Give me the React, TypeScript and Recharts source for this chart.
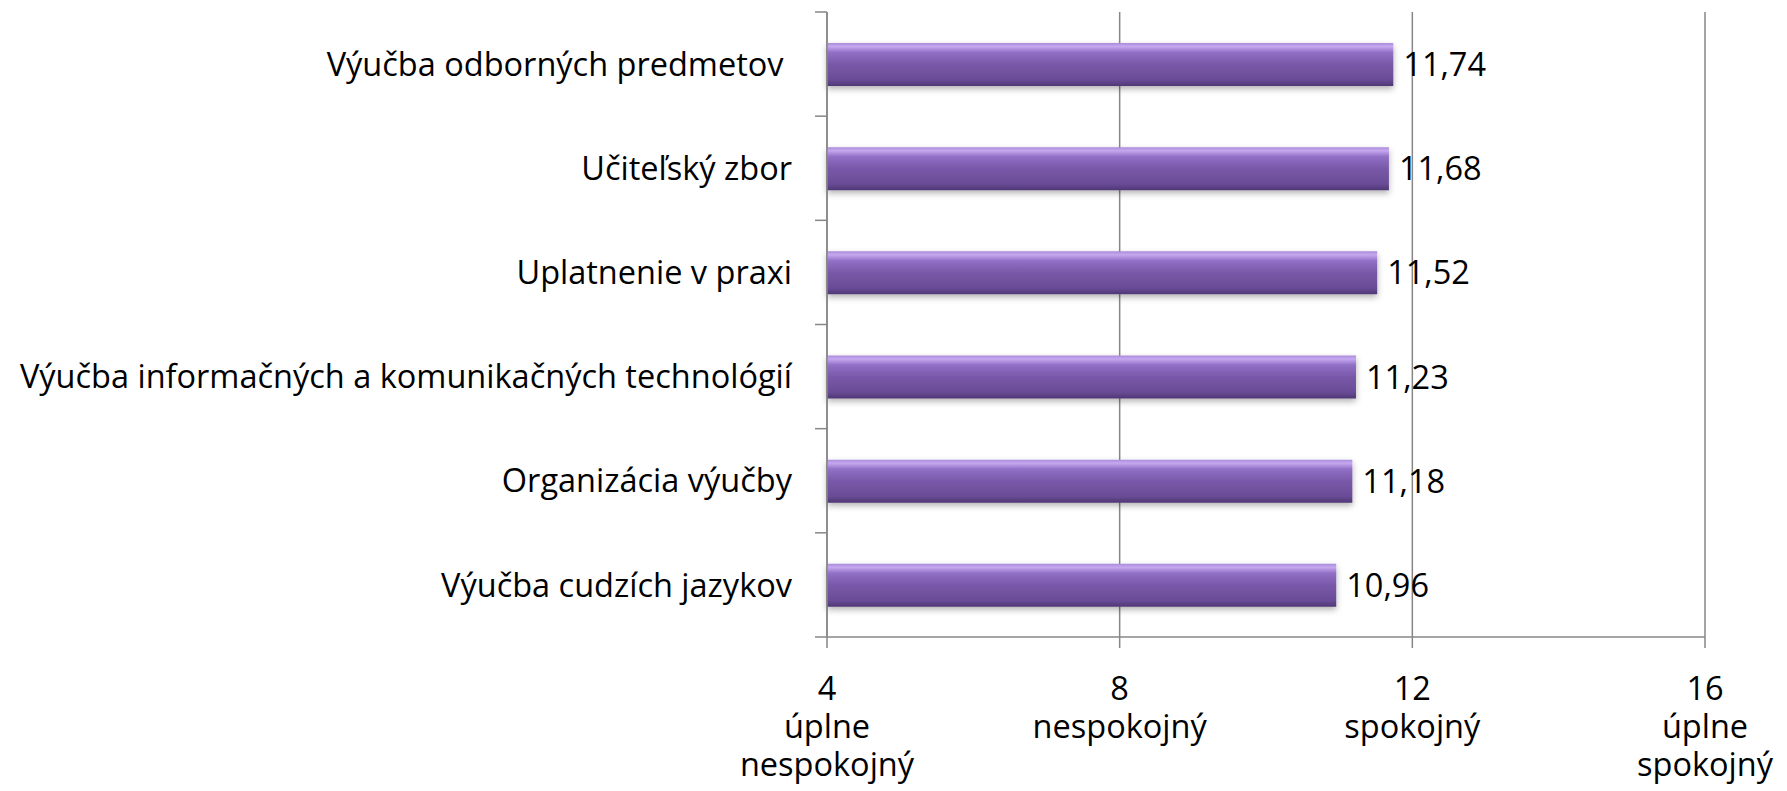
import React from "react";
import { BarChart, Bar, XAxis, YAxis, CartesianGrid, LabelList } from "recharts";

// survey areas, top to bottom
const categories = [
  "Výučba odborných predmetov ",
  "Učiteľský zbor",
  "Uplatnenie v praxi",
  "Výučba informačných a komunikačných technológií",
  "Organizácia výučby",
  "Výučba cudzích jazykov",
];
const scores = [11.74, 11.68, 11.52, 11.23, 11.18, 10.96];

const scaleTicks = [4, 8, 12, 16];
const scaleCaptions = [["úplne", "nespokojný"], ["nespokojný"], ["spokojný"], ["úplne", "spokojný"]];

const AXIS = "#878787";
const FONT = "'Open Sans', sans-serif";
const FONT_SIZE = 32.5;

const data = categories.map((name, i) => ({ name, score: scores[i] }));

function CategoryTick(props: any) {
  const { x, y, payload, index, visibleTicksCount } = props;
  const half = payload.offset || 52;
  const axisX = x + 35;
  return (
    <g>
      <line x1={axisX - 12} x2={axisX} y1={y - half} y2={y - half} stroke={AXIS} strokeWidth={1.5} />
      {index === visibleTicksCount - 1 && (
        <line x1={axisX - 12} x2={axisX} y1={y + half} y2={y + half} stroke={AXIS} strokeWidth={1.5} />
      )}
      <text
        x={x}
        y={y}
        dy="0.36em"
        textAnchor="end"
        fill="#000"
        fontSize={FONT_SIZE}
        fontFamily={FONT}
        style={{ whiteSpace: "pre" }}
      >
        {payload.value}
      </text>
    </g>
  );
}

function ScaleTick(props: any) {
  const { x, y, payload } = props;
  const idx = scaleTicks.indexOf(payload.value);
  const lines = scaleCaptions[idx] || [];
  return (
    <text x={x} y={y} textAnchor="middle" fill="#000" fontSize={FONT_SIZE} fontFamily={FONT}>
      <tspan x={x} dy={50}>
        {payload.value}
      </tspan>
      {lines.map((t, i) => (
        <tspan key={i} x={x} dy={38}>
          {t}
        </tspan>
      ))}
    </text>
  );
}

export default function App() {
  return (
    <div style={{ position: "absolute", left: 0, top: 0, background: "#fff" }}>
      <BarChart
        width={1787}
        height={791}
        data={data}
        layout="vertical"
        margin={{ top: 12, right: 82, left: 0, bottom: 0 }}
        style={{ fontFamily: FONT }}
      >
        <defs>
          <linearGradient id="barFill" x1="0" y1="0" x2="0" y2="1">
            <stop offset="0" stopColor="#a98bd8" />
            <stop offset="0.08" stopColor="#c6a8f0" />
            <stop offset="0.22" stopColor="#9170c6" />
            <stop offset="0.5" stopColor="#7858a8" />
            <stop offset="0.85" stopColor="#6a4c97" />
            <stop offset="1" stopColor="#4f3775" />
          </linearGradient>
          <filter id="barShadow" x="-5%" y="-30%" width="110%" height="170%">
            <feDropShadow dx="0" dy="3" stdDeviation="3" floodColor="#000" floodOpacity="0.3" />
          </filter>
        </defs>
        <CartesianGrid horizontal={false} stroke={AXIS} strokeWidth={1.5} />
        <XAxis
          type="number"
          domain={[4, 16]}
          ticks={scaleTicks}
          interval={0}
          height={154}
          tickSize={11}
          tickMargin={2}
          axisLine={{ stroke: AXIS, strokeWidth: 1.5 }}
          tickLine={{ stroke: AXIS, strokeWidth: 1.5 }}
          tick={<ScaleTick />}
        />
        <YAxis
          type="category"
          dataKey="name"
          width={827}
          interval={0}
          tickSize={12}
          tickMargin={23}
          tickLine={false}
          axisLine={{ stroke: AXIS, strokeWidth: 1.5 }}
          tick={<CategoryTick />}
        />
        <Bar dataKey="score" barSize={43} fill="url(#barFill)" filter="url(#barShadow)" isAnimationActive={false}>
          <LabelList
            dataKey="score"
            position="right"
            offset={10}
            fill="#000"
            fontSize={FONT_SIZE}
            fontFamily={FONT}
            formatter={(v: unknown) => Number(v).toFixed(2).replace(".", ",")}
          />
        </Bar>
      </BarChart>
    </div>
  );
}
